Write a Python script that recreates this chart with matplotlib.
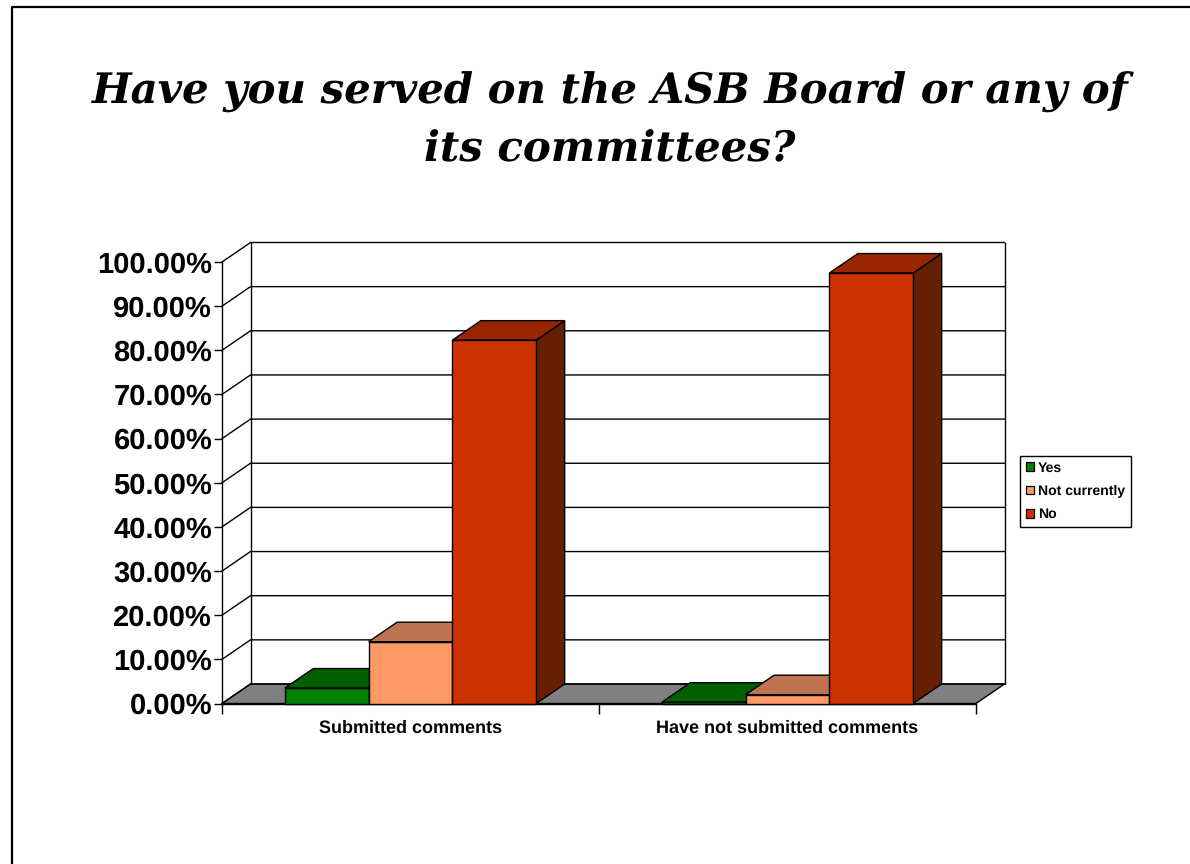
import numpy as np
import matplotlib
matplotlib.use("Agg")
import matplotlib.pyplot as plt
from matplotlib.lines import Line2D
from matplotlib.patches import Patch

title = "Have you served on the ASB Board or any of\nits committees?"
categories = ["Submitted comments", "Have not submitted comments"]
series = ["Yes", "Not currently", "No"]
yes = [3.5, 0.3]
not_currently = [14.0, 2.0]
no = [82.3, 97.5]
ticks = [0, 10, 20, 30, 40, 50, 60, 70, 80, 90, 100]
tick_labels = ["%.2f%%" % t for t in ticks]

front_cols = ["#008000", "#FF9966", "#CC3300"]
top_cols = ["#006000", "#C07350", "#9A2600"]
side_cols = ["#004D00", "#804D33", "#661F00"]

W, H = 1190, 864
barw = 2 / 9.0
dx = 28.5 / 377.0      # depth in x units
dy = 19.5 / 441.5 * 100  # depth in percent

plt.rcParams['font.family'] = ['Liberation Sans', 'DejaVu Sans']
plt.rcParams['text.hinting'] = 'no_hinting'

fig = plt.figure(figsize=(W / 100, H / 100), dpi=100)
ax = fig.add_axes([222 / W, 1 - 703.5 / H, 754 / W, 441.5 / H])
ax.set_xlim(0, 2)
ax.set_ylim(0, 100)
ax.patch.set_visible(False)
for s in ax.spines.values():
    s.set_visible(False)

# floor
ax.fill([0, 2, 2 + dx, dx], [0, 0, dy, dy], fc="#808080", ec="black", lw=1.0, clip_on=False, zorder=1)

# walls
for t in ticks:
    ax.plot([0, dx, 2 + dx], [t, t + dy, t + dy], color="black", lw=1.0, clip_on=False, zorder=2)
ax.plot([0, 0], [0, 100], color="black", lw=1.0, clip_on=False, zorder=2)
ax.plot([dx, dx], [dy, 100 + dy], color="black", lw=1.0, clip_on=False, zorder=2)
ax.plot([2 + dx, 2 + dx], [dy, 100 + dy], color="black", lw=1.0, clip_on=False, zorder=2)
ax.plot([0, 2], [0, 0], color="black", lw=1.0, clip_on=False, zorder=2)

# bars left to right, each one covers the side of the one before
z = 3
for c in range(2):
    for i, vals in enumerate([yes, not_currently, no]):
        x0 = c + 1 / 6.0 + i * barw
        v = vals[c]
        ax.fill([x0 + barw, x0 + barw + dx, x0 + barw + dx, x0 + barw], [0, dy, v + dy, v],
                fc=side_cols[i], ec="black", lw=1.0, clip_on=False, zorder=z)
        ax.fill([x0, x0 + barw, x0 + barw + dx, x0 + dx], [v, v, v + dy, v + dy],
                fc=top_cols[i], ec="black", lw=1.0, clip_on=False, zorder=z)
        ax.bar(x0, v, barw, align="edge", color=front_cols[i], edgecolor="black", lw=1.0, clip_on=False, zorder=z)
        z += 1

ax.set_yticks(ticks)
ax.set_yticklabels(tick_labels, fontsize=21, fontweight="bold")
ax.tick_params(axis="y", length=6, width=1.0, pad=1)
ax.set_xticks([0, 1, 2])
ax.set_xticklabels([])
ax.tick_params(axis="x", which="major", length=7, width=1.0)
ax.set_xticks([0.5, 1.5], minor=True)
ax.set_xticklabels(categories, minor=True, fontsize=13, fontweight="bold")
ax.tick_params(axis="x", which="minor", length=0, pad=11.5)

handles = [Patch(fc=front_cols[i], ec="black", lw=0.9) for i in range(3)]
leg = fig.legend(handles, series, loc="upper left", bbox_to_anchor=(1020 / W, 1 - 456 / H),
                 borderaxespad=0, prop={"size": 10.1, "weight": "bold"}, fancybox=False,
                 edgecolor="black", framealpha=1, handlelength=0.6, handleheight=0.6,
                 handletextpad=0.28, labelspacing=0.72, borderpad=0.4)
leg.get_frame().set_linewidth(1.0)

fig.text(610 / W, 1 - 121 / H, title, ha="center", va="center", family="DejaVu Serif",
         fontsize=30.2, fontweight="bold", fontstyle="italic", linespacing=1.5)

# slide frame
fig.add_artist(Line2D([11.5 / W, 11.5 / W, 1], [0, 1 - 7 / H, 1 - 7 / H], color="black", lw=1.6))

fig.savefig("out.png", dpi=100)
